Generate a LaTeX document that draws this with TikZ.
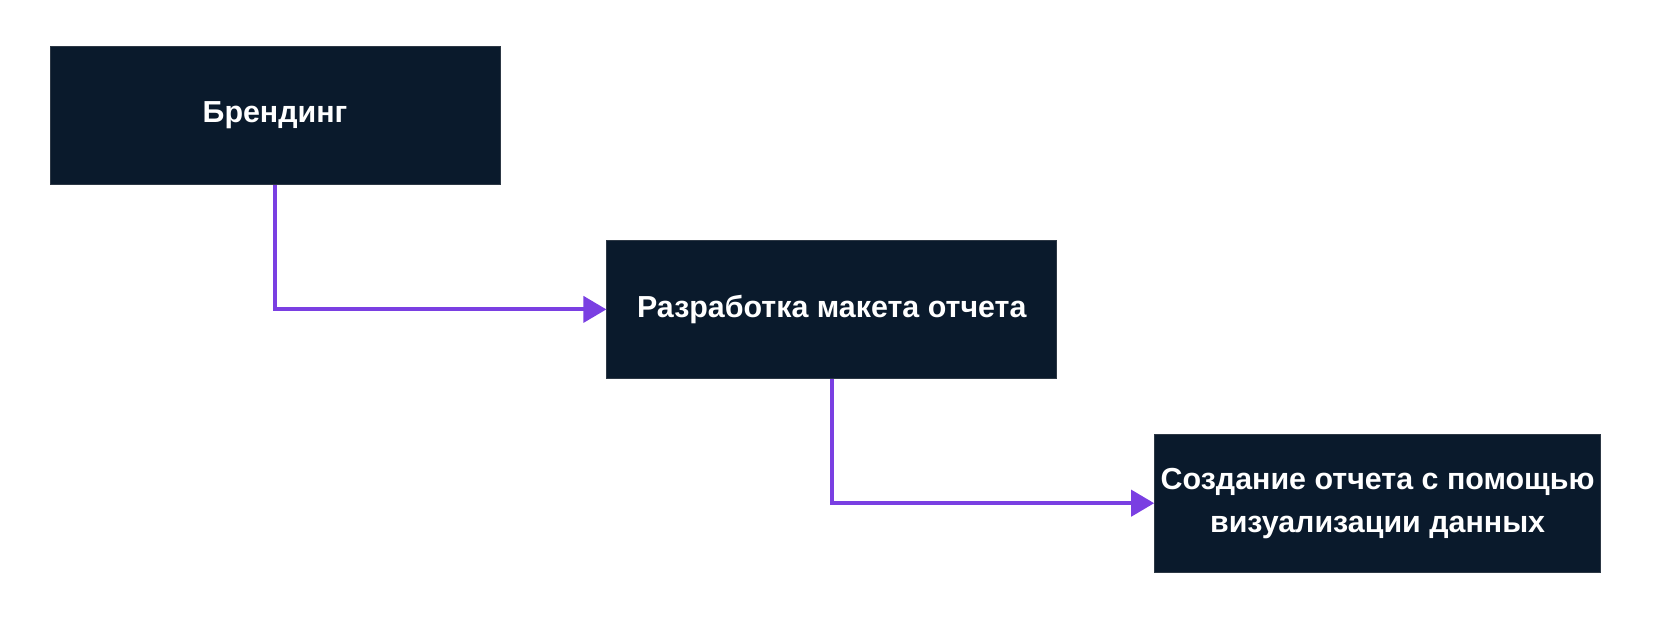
\documentclass[tikz,border=0pt]{standalone}
\usepackage{fontspec}
\setmainfont{Liberation Sans}
\usepackage{xcolor}
\usetikzlibrary{arrows.meta,positioning}

\definecolor{boxnavy}{HTML}{0A1A2C}
\definecolor{linkpurple}{HTML}{7A3FE2}

\begin{document}
\begin{tikzpicture}[node distance=27.5pt and 53pt,
    task/.style={draw=boxnavy!70!gray, fill=boxnavy, rectangle, minimum width=225pt, minimum height=69pt, text=white, font=\fontsize{15.2}{21.5}\selectfont\bfseries, align=center, inner sep=1pt},
    link/.style={-{Triangle[length=11.5pt, width=13pt]}, line width=2pt, draw=linkpurple}]
    \useasboundingbox (0,0) rectangle (828pt,-312pt);
    \node (branding) [task] at (137.5pt,-57.8pt) {Брендинг};
    \node (layout) [task, below right=of branding.south east, anchor=north west] {Разработка макета отчета};
    \node (report) [task, minimum width=223pt, below right=27.5pt and 48.5pt of layout.south east, anchor=north west] {Создание отчета с помощью\\визуализации данных};

    \draw [link] (branding.south) |- (layout.west);
    \draw [link] (layout.south) |- (report.west);

\end{tikzpicture}
\end{document}
